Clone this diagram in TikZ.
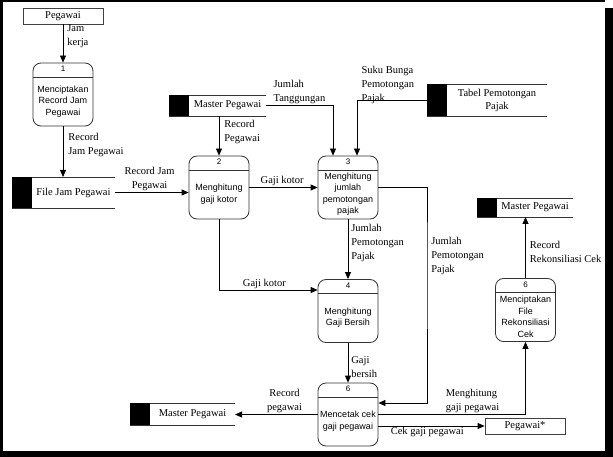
\documentclass[tikz,border=0pt]{standalone}
\usepackage{fontspec}
\setmainfont{Liberation Serif}
\setsansfont{Liberation Sans}
\usepackage{tikz}
\usetikzlibrary{positioning}
\usetikzlibrary{arrows.meta}

\newcommand{\sela}{\rule{0pt}{20pt}}

\begin{document}
\begin{tikzpicture}[x=1pt,y=-1pt,>={Triangle[length=7pt,width=6pt]},line width=.8pt,
  proses/.style={draw=black!80, rounded corners=8pt, minimum width=60pt, minimum height=63pt,
    inner sep=1pt, align=center, font=\sffamily\fontsize{9}{11.5}\selectfont,
    path picture={\draw[black!80] ([yshift=-14pt]path picture bounding box.north west) -- ([yshift=-14pt]path picture bounding box.north east);}},
  nomor/.style={anchor=north, inner sep=3pt, font=\sffamily\fontsize{8}{9}\selectfont},
  entitas/.style={draw=black!75, minimum width=80pt, minimum height=16pt, inner sep=1pt, font=\fontsize{10.5}{13}\selectfont},
  simpan/.style 2 args={minimum width=#1, minimum height=#2, inner sep=1pt, outer sep=0pt, align=center,
    font=\fontsize{10.5}{13}\selectfont,
    append after command={([xshift=-20pt]\tikzlastnode.north west) edge[-,black!80] (\tikzlastnode.north east)
      ([xshift=-20pt]\tikzlastnode.south west) edge[-,black!80] (\tikzlastnode.south east)
      ([xshift=-10pt]\tikzlastnode.north west) edge[-,line width=20pt] ([xshift=-10pt]\tikzlastnode.south west)}},
  ket/.style={font=\fontsize{10.5}{14}\selectfont, align=left, inner sep=1pt}]
% bingkai
\fill[black] (0,0) rectangle (613,457);
\fill[white] (2.5,2) rectangle (605,451);
\fill[white] (605,0) rectangle (613,8);

\node[entitas] at (63,16) (ePeg) {Pegawai};
\node[proses, label={[nomor]north:1}] at (63,94.5) (pSatu) {\sela Menciptakan\\Record Jam\\Pegawai};
\node[simpan={83pt}{31pt}] at (73.5,192.5) (dFile) {File Jam Pegawai};
\node[simpan={77pt}{21pt}] at (227.5,105.5) (mpA) {Master Pegawai};
\node[simpan={100pt}{32pt}] at (497,100) (dTabel) {Tabel Pemotongan\\Pajak};
\node[proses, label={[nomor]north:2}] at (219,187.5) (pDua) {\sela Menghitung\\gaji kotor};
\node[proses, label={[nomor]north:3}] at (348,187.5) (pTiga) {\sela Menghitung\\jumlah\\pemotongan\\pajak};
\node[proses, label={[nomor]north:4}] at (348,311) (pEmpat) {\sela Menghitung\\Gaji Bersih};
\node[proses, label={[nomor]north:6}] at (348,414.5) (pEnam) {\sela Mencetak cek\\gaji pegawai};
\node[proses, label={[nomor]north:6}] at (525.5,310) (pRek) {\sela Menciptakan\\File\\Rekonsiliasi\\Cek};
\node[simpan={76pt}{19pt}] at (535,207.5) (mpB) {Master Pegawai};
\node[simpan={85pt}{22pt}] at (192.5,414) (mpC) {Master Pegawai};
\node[entitas] at (525,426) (ePegB) {Pegawai*};
\coordinate (kJumlah) at (427,256);

\draw[->] (ePeg) -- (pSatu) node[ket, right=3pt, pos=.3] {Jam\\kerja};
\draw[->] (pSatu) -- (pSatu |- dFile.north) node[ket, right=4pt, pos=.36] {Record\\Jam Pegawai};
\draw[->] (dFile.east) -- (dFile.east -| pDua.west) node[ket, above, pos=.47, align=center] {Record Jam\\Pegawai};
\draw[->] (pDua.north |- mpA.south) -- (pDua.north) node[ket, right=4pt, pos=.41] {Record\\Pegawai};
\draw[->] (mpA.east) -| ([xshift=-15pt]pTiga.north) node[ket, above, pos=.25] {Jumlah\\Tanggungan};
\draw[->] ([xshift=-20pt]dTabel.west) -| ([xshift=9pt]pTiga.north) node[ket, pos=.28, anchor=south, yshift=-5pt] {Suku Bunga\\Pemotongan\\Pajak};
\draw[->] (pDua) -- (pTiga) node[ket, above, pos=.48] {Gaji kotor};
\draw[->] (pDua.south) |- ([yshift=21pt]pEmpat.west) node[ket, above, pos=.73] {Gaji kotor};
\draw[->] (pTiga) -- (pEmpat) node[ket, right=2pt, pos=.39] {Jumlah\\Pemotongan\\Pajak};
\draw[->] (pTiga.east) -| (kJumlah) node[ket, right=3pt] {Jumlah\\Pemotongan\\Pajak} |- ([yshift=11.5pt]pEnam.east);
\draw[->] (pEmpat) -- (pEnam) node[ket, right=2pt, pos=.6] {Gaji\\bersih};
\draw[->] (pEnam.west) -- (pEnam.west -| mpC.east) node[ket, above, pos=.4, align=center] {Record\\pegawai};
\draw[->] (pEnam.east) -| (pRek.south) node[ket, above, pos=.32] {Menghitung\\gaji pegawai};
\draw[->] ([yshift=-11.5pt]pEnam.east) -- (ePegB.west) node[ket, below, pos=.46] {Cek gaji pegawai};
\draw[->] (pRek) -- (pRek |- mpB.south) node[ket, right=3pt, pos=.43] {Record\\Rekonsiliasi Cek};
\end{tikzpicture}
\end{document}
